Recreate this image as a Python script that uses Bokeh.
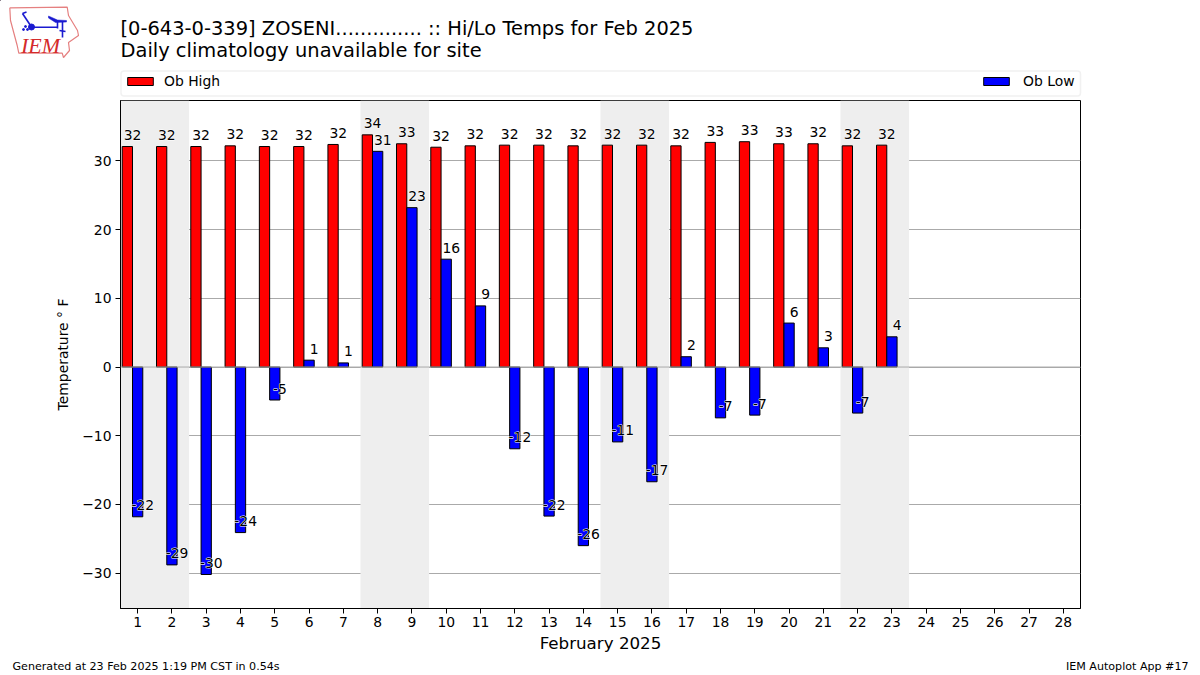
from bokeh.plotting import figure
from bokeh.layouts import column
from bokeh.embed import file_html
from bokeh.resources import INLINE
from bokeh.models import (Range1d, FixedTicker, BoxAnnotation, Legend, LegendItem,
                          ColumnDataSource, Span)
from bokeh.core.properties import value

days = list(range(1, 29))
ob_day = list(range(1, 24))
ob_high = [32.1, 32.1, 32.1, 32.2, 32.1, 32.1, 32.4, 33.8, 32.5, 32.0, 32.2, 32.3, 32.3, 32.2, 32.3, 32.3, 32.2, 32.7, 32.8, 32.5, 32.5, 32.2, 32.3]
ob_low = [-21.8, -28.8, -30.2, -24.1, -4.8, 1.0, 0.6, 31.4, 23.2, 15.7, 8.9, -11.9, -21.7, -26.0, -10.9, -16.7, 1.5, -7.4, -7.0, 6.4, 2.8, -6.7, 4.4]
high_labels = ["32", "32", "32", "32", "32", "32", "32", "34", "33", "32", "32", "32", "32", "32", "32", "32", "32", "33", "33", "33", "32", "32", "32"]
low_labels = ["-22", "-29", "-30", "-24", "-5", "1", "1", "31", "23", "16", "9", "-12", "-22", "-26", "-11", "-17", "2", "-7", "-7", "6", "3", "-7", "4"]
weekends = [(0.5, 2.5), (7.5, 9.5), (14.5, 16.5), (21.5, 23.5)]
y_ticks = [-30, -20, -10, 0, 10, 20, 30]
title_lines = ["[0-643-0-339] ZOSENI.............. :: Hi/Lo Temps for Feb 2025", "Daily climatology unavailable for site"]
footer_left = "Generated at 23 Feb 2025 1:19 PM CST in 0.54s"
footer_right = "IEM Autoplot App #17"

W = 1200
FONT = "DejaVu Sans"
TXT = "13.9px"


def strip(height, y_top, y_bottom):
    """A figure without axes whose data coordinates are the page's pixels."""
    f = figure(width=W, height=height, output_backend="svg", toolbar_location=None,
               x_range=Range1d(0, W), y_range=Range1d(y_bottom, y_top),
               x_axis_type=None, y_axis_type=None, min_border=0, outline_line_color=None,
               background_fill_color="white", border_fill_color="white", frame_align=False)
    f.grid.visible = False
    return f


# ---------- main plot ----------
p = figure(width=W, height=556, output_backend="svg", toolbar_location=None,
           x_range=Range1d(0.5, 28.5), y_range=Range1d(-35.15, 38.8),
           min_border_left=120, min_border_right=120, min_border_top=1, min_border_bottom=47,
           background_fill_color="white", border_fill_color="white", outline_line_color="black",
           outline_line_width=1, frame_align=False)

for a, b in weekends:
    p.add_layout(BoxAnnotation(left=a, right=b, fill_color="#eeeeee", fill_alpha=1, line_alpha=0, level="underlay"))

p.xgrid.visible = False
p.ygrid.grid_line_color = "#aaaaaa"
p.ygrid.grid_line_width = 1
p.ygrid.level = "underlay"

hs = ColumnDataSource(dict(x=[d - 0.3 for d in ob_day], top=ob_high, lx=[d - 0.15 for d in ob_day], ly=[v + 1.67 for v in ob_high], txt=high_labels))
ls = ColumnDataSource(dict(x=list(ob_day), top=ob_low, lx=[d + 0.15 for d in ob_day], ly=[v + 1.67 for v in ob_low], txt=low_labels))
p.vbar(x="x", top="top", bottom=0, width=0.3, source=hs, fill_color="#ff0000", line_color="black", line_width=1)
p.vbar(x="x", top="top", bottom=0, width=0.3, source=ls, fill_color="#0000ff", line_color="black", line_width=1)
p.add_layout(Span(location=0, dimension="width", line_color="#aaaaaa", line_width=1))

for s in (hs, ls):
    p.text(x="lx", y="ly", text="txt", source=s, text_font=value(FONT), text_font_size=TXT,
           text_color="white", text_align="center", text_baseline="alphabetic",
           text_outline_color="white")
for s in (hs, ls):
    p.text(x="lx", y="ly", text="txt", source=s, text_font=value(FONT), text_font_size=TXT,
           text_color="black", text_align="center", text_baseline="alphabetic")

p.xaxis.ticker = FixedTicker(ticks=days)
p.yaxis.ticker = FixedTicker(ticks=y_ticks)
p.yaxis.major_label_overrides = {t: str(t).replace("-", "\u2212") for t in y_ticks}
for ax in (p.xaxis[0], p.yaxis[0]):
    ax.axis_line_color = "black"
    ax.major_tick_line_color = "black"
    ax.major_tick_in = 0
    ax.major_tick_out = 5
    ax.minor_tick_line_color = None
    ax.major_label_text_font = FONT
    ax.major_label_text_font_size = TXT
    ax.major_label_text_color = "black"
    ax.axis_label_text_font = FONT
    ax.axis_label_text_font_style = "normal"
    ax.axis_label_text_color = "black"
p.xaxis.major_label_standoff = 3
p.yaxis.major_label_standoff = 4
p.xaxis.axis_label = "February 2025"
p.xaxis.axis_label_text_font_size = "16.7px"
p.xaxis.axis_label_standoff = 3
p.yaxis.axis_label = "Temperature \u00b0 F"
p.yaxis.axis_label_text_font_size = TXT
p.yaxis.axis_label_standoff = 8

# ---------- header: logo, title, legend ----------
top = strip(99, 0, 99)


def say(f, x, y, text, size, font=FONT, color="black", align="left", style="normal"):
    f.text(x=[x], y=[y], text=[text], text_font=value(font), text_font_size=size, text_color=color,
           text_align=align, text_baseline="alphabetic", text_font_style=style)


say(top, 120, 28, title_lines[0], "19.45px")
say(top, 120, 50, title_lines[1], "19.45px")

top.add_layout(BoxAnnotation(left=120.5, right=1080, top=70.5, bottom=95.5,
                             fill_color="white", fill_alpha=1, line_color="#d0d0d0", line_width=1.5,
                             border_radius=3))
# proxies for the legend keys: they lie outside the visible range
proxy_h = top.vbar(x=[-500], top=[-500], bottom=[-600], width=1, fill_color="#ff0000", line_color="black", line_width=1)
proxy_l = top.vbar(x=[-500], top=[-500], bottom=[-600], width=1, fill_color="#0000ff", line_color="black", line_width=1)
for rend, name, lx, gap in ((proxy_h, "Ob High", 124, 8), (proxy_l, "Ob Low", 980, 11)):
    top.add_layout(Legend(items=[LegendItem(label=name, renderers=[rend])], location=(lx, 10),
                          border_line_color=None, background_fill_alpha=0, glyph_width=32, glyph_height=10,
                          label_text_font=FONT, label_text_font_size=TXT, label_text_color="black",
                          margin=0, padding=5, spacing=0, label_standoff=gap))

# IEM logo, drawn by hand
iowa_x = [9.3, 66.7, 68, 77, 78, 68, 69, 63, 61.7, 18.3, 16.7, 10, 9.3]
iowa_y = [7.3, 6.7, 15, 30, 35, 42, 50, 57, 52.7, 52.7, 45, 20, 7.3]
top.line(iowa_x, iowa_y, line_color="#e58080", line_width=1.2)
BLUE = "#1a1ad0"
top.segment(x0=[31, 22, 22, 57, 62, 59], y0=[26.7, 13, 13, 21, 21, 30],
            x1=[57, 30, 26, 57, 62, 65], y1=[26.7, 25, 11.5, 28, 37, 31], line_color=BLUE, line_width=1.6)
top.patch([48, 57, 66, 66, 55, 48], [15.5, 19.5, 20, 21.5, 22, 17.5], fill_color=BLUE, line_color=BLUE, line_width=0.5)
top.scatter([31], [26.5], size=6, fill_color=BLUE, line_color=BLUE)
top.scatter([25, 23, 27], [26, 29, 29], size=2, fill_color=BLUE, line_color=BLUE)
say(top, 20.5, 45, "IEM", "22px", font="Liberation Serif", color="#d42a2a", style="italic")

# ---------- footer ----------
foot = strip(20, 655, 675)
say(foot, 12, 666, footer_left, "11.1px")
say(foot, 1188, 666, footer_right, "11.1px", align="right")

page = column(top, p, foot, spacing=0)
open("out.html", "w").write(file_html(page, INLINE))
